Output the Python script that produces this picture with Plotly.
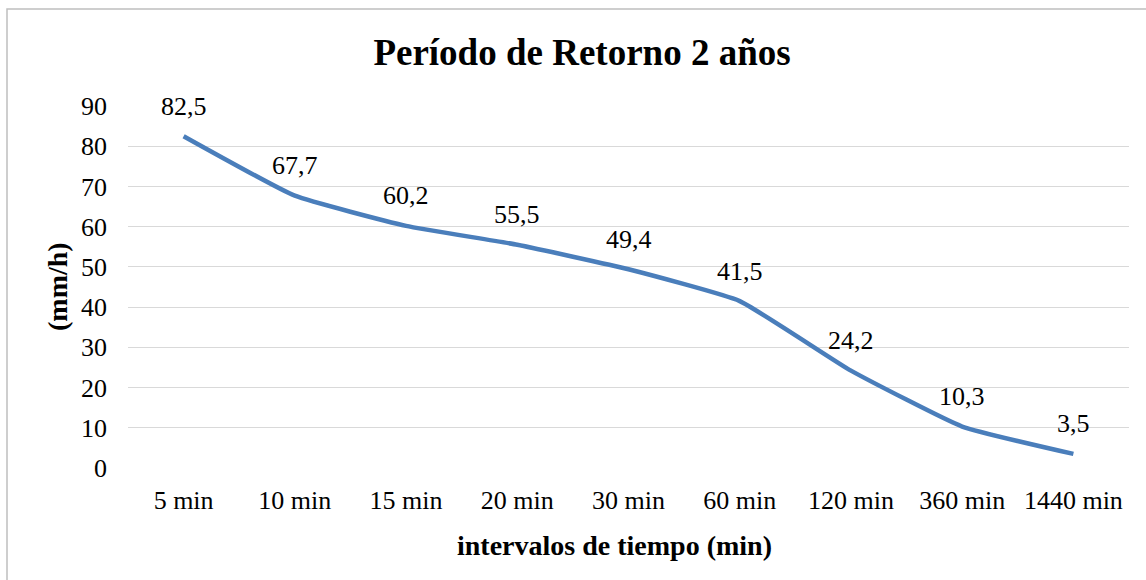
import plotly.graph_objects as go

categories = ["5 min", "10 min", "15 min", "20 min", "30 min", "60 min", "120 min", "360 min", "1440 min"]
intensity = [82.5, 67.7, 60.2, 55.5, 49.4, 41.5, 24.2, 10.3, 3.5]
y_ticks = [0, 10, 20, 30, 40, 50, 60, 70, 80, 90]

title_text = "Período de Retorno 2 años"
x_title = "intervalos de tiempo (min)"
y_title = "(mm/h)"

FONT = "Liberation Serif"
W, H = 1146, 580
L, R, T, B = 128, 17, 106, 112

labels = [f"{v:.1f}".replace(".", ",") for v in intensity]

fig = go.Figure()
fig.add_trace(go.Scatter(
    x=categories, y=intensity, mode="lines",
    line=dict(color="#4a7ebb", width=4.5, shape="spline", smoothing=0.4),
    hoverinfo="skip", showlegend=False,
))

annotations = []
for c, v, t in zip(categories, intensity, labels):
    annotations.append(dict(x=c, y=v, xref="x", yref="y", text=t, showarrow=False,
                            yshift=30, font=dict(family=FONT, size=26, color="black")))

pw = W - L - R
ph = H - T - B
annotations.append(dict(text="<b>" + x_title + "</b>", xref="paper", yref="paper",
                        x=(614 - L) / pw, y=-(545 - (H - B)) / ph, showarrow=False,
                        xanchor="center", yanchor="middle",
                        font=dict(family=FONT, size=28, color="black")))
annotations.append(dict(text="<b>" + y_title + "</b>", xref="paper", yref="paper",
                        x=(57 - L) / pw, y=(H - B - 287) / ph, showarrow=False, textangle=-90,
                        xanchor="center", yanchor="middle",
                        font=dict(family=FONT, size=28, color="black")))

shapes = [dict(type="rect", xref="paper", yref="paper",
               x0=(7 - L) / pw, x1=(1160 - L) / pw,
               y0=-(600 - (H - B)) / ph, y1=(H - B - 9) / ph,
               line=dict(color="#bfbfbf", width=1.5), fillcolor="rgba(0,0,0,0)", layer="below")]

fig.update_layout(
    width=W, height=H,
    margin=dict(l=L, r=R, t=T, b=B, autoexpand=False),
    paper_bgcolor="white", plot_bgcolor="white",
    title=dict(text="<b>" + title_text + "</b>", x=582 / W, xref="container", xanchor="center",
               y=1 - 52 / H, yref="container", yanchor="middle",
               font=dict(family=FONT, size=37, color="black")),
    xaxis=dict(type="category", showgrid=False, showline=False, ticks="", automargin=False,
               tickfont=dict(family=FONT, size=26, color="black"), ticklabelstandoff=14,
               range=[-0.5, len(categories) - 0.5]),
    yaxis=dict(range=[0, 90], tickvals=y_ticks, showgrid=True, gridcolor="#d9d9d9", gridwidth=1.3,
               zeroline=False, showline=False, ticks="", automargin=False,
               tickfont=dict(family=FONT, size=26, color="black"), ticklabelstandoff=20),
    annotations=annotations,
    shapes=shapes,
)

fig.write_html("out.html", config={"displayModeBar": False},
               post_script="document.body.style.margin='0';document.body.style.overflow='hidden';")
